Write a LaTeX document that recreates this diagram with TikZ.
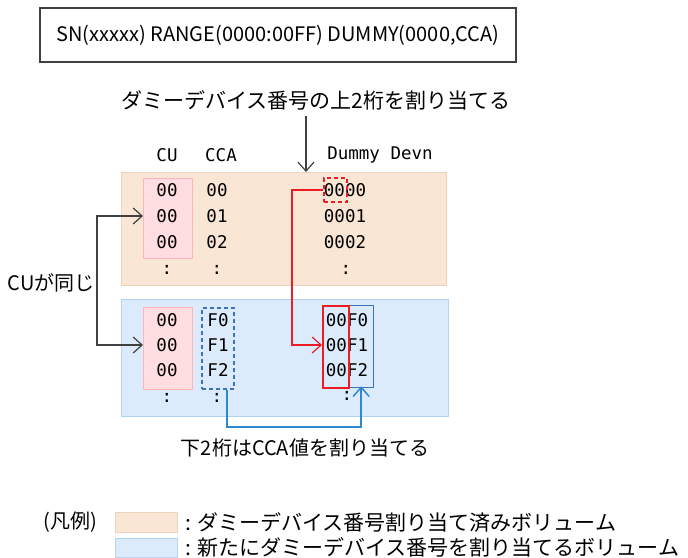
\documentclass[tikz,border=0pt]{standalone}
\usepackage{fontspec}
\setmainfont{Noto Sans CJK JP}
\newfontfamily\jpfont{Noto Sans CJK JP}
\newfontfamily\tblfont{DejaVu Sans Mono}
\usetikzlibrary{arrows.meta,positioning}

\definecolor{usedfill}{HTML}{F9E6D5}
\definecolor{usedline}{HTML}{EDD2BA}
\definecolor{newfill}{HTML}{DCEBFB}
\definecolor{newline}{HTML}{B4D2F2}
\definecolor{pinkfill}{HTML}{FFDDE0}
\definecolor{pinkline}{HTML}{FFB4BC}
\definecolor{hired}{HTML}{EE1C25}
\definecolor{hiblue}{HTML}{3A74BC}
\definecolor{ptrblue}{HTML}{2E88D4}
\definecolor{darkline}{HTML}{404040}

\begin{document}
\begin{tikzpicture}[x=1pt,y=-1pt,
    jp/.style={font=\jpfont\fontsize{20}{24}\selectfont, inner sep=0pt},
    jpbig/.style={font=\jpfont\fontsize{21}{25}\selectfont, inner sep=0pt},
    tbl/.style={font=\tblfont\fontsize{17.5}{22}\selectfont, inner sep=0pt},
    area/.style={draw, line width=1pt, anchor=north west, inner sep=0pt},
    pinkbox/.style={draw=pinkline, fill=pinkfill, line width=1pt, anchor=north west, inner sep=0pt},
    dashbox/.style={line width=1.8pt, dash pattern=on 4pt off 3pt, anchor=north west, inner sep=0pt},
    pointer/.style={draw=darkline, line width=1.2pt, -{Straight Barb[length=9pt,width=16pt]}},
    redptr/.style={draw=hired, line width=1.2pt, -{Straight Barb[length=9pt,width=16pt]}},
    blueptr/.style={draw=ptrblue, line width=1.5pt, -{Straight Barb[length=9pt,width=16pt]}}]
  \useasboundingbox (0,0) rectangle (688,557);

  % command line
  \node[draw=darkline, line width=1.5pt, minimum width=476pt, minimum height=54pt,
        font=\fontsize{20}{24}\selectfont] (cmd) at (278,35)
        {SN(xxxxx) RANGE(0000:00FF) DUMMY(0000,CCA)};

  \node[jpbig] (hdr) at (316,100) {ダミーデバイス番号の上2桁を割り当てる};

  % column headings
  \node[tbl] (hCU) at (167,155) {CU};
  \node[tbl] (hCCA) at (221,155) {CCA};
  \node[tbl] (hDev) at (380,155) {Dummy Devn};

  % volumes already numbered
  \node[area, draw=usedline, fill=usedfill, minimum width=325pt, minimum height=113pt] (usedBox) at (121,172) {};
  \node[pinkbox, minimum width=49pt, minimum height=80pt] (cuHiA) at (143,178) {};

  \node[tbl] (uCu1) at (167,190) {00};
  \node[tbl] (uCu2) at (167,216) {00};
  \node[tbl] (uCu3) at (167,242) {00};
  \node[tbl] (uCu4) at (167,270) {:};
  \node[tbl] (uCca1) at (217,190) {00};
  \node[tbl] (uCca2) at (217,216) {01};
  \node[tbl] (uCca3) at (217,242) {02};
  \node[tbl] (uCca4) at (217,270) {:};
  \node[tbl] (uDev1) at (345,190) {0000};
  \node[tbl] (uDev2) at (345,216) {0001};
  \node[tbl] (uDev3) at (345,242) {0002};
  \node[tbl] (uDev4) at (346,270) {:};

  \node[dashbox, draw=hired, minimum width=23pt, minimum height=24pt] (dumHi) at (323,177) {};

  % volumes to be numbered
  \node[area, draw=newline, fill=newfill, minimum width=327pt, minimum height=117pt] (newBox) at (121,299) {};
  \node[pinkbox, minimum width=49pt, minimum height=82pt] (cuHiB) at (143,307) {};
  \node[dashbox, draw=hiblue, minimum width=32pt, minimum height=81pt] (ccaHi) at (201,307) {};

  \node[tbl] (lCu1) at (167,320) {00};
  \node[tbl] (lCu2) at (167,345) {00};
  \node[tbl] (lCu3) at (167,370) {00};
  \node[tbl] (lCu4) at (167,398) {:};
  \node[tbl] (lCca1) at (218,320) {F0};
  \node[tbl] (lCca2) at (218,345) {F1};
  \node[tbl] (lCca3) at (218,370) {F2};
  \node[tbl] (lCca4) at (217,398) {:};
  \node[tbl] (lDev1) at (347,320) {00F0};
  \node[tbl] (lDev2) at (347,345) {00F1};
  \node[tbl] (lDev3) at (347,370) {00F2};
  \node[tbl] (lDev4) at (347,396) {:};

  \node[draw=hiblue, line width=1.3pt, minimum width=25pt, minimum height=82pt,
        anchor=north west, inner sep=0pt] (newHi) at (348,305) {};
  \node[draw=hired, line width=1.5pt, minimum width=26pt, minimum height=82pt,
        anchor=north west, inner sep=0pt] (redHi) at (322,305) {};

  % connectors
  \draw[pointer, shorten <=6pt] ([xshift=-10pt]hdr.south) -- ([xshift=-10pt]hdr.south |- usedBox.north);
  \draw[redptr] (dumHi.west) -- ++(-31,0) |- (redHi.west |- lDev2);
  \draw[blueptr] ([xshift=9pt]ccaHi.south) -- ++(0,37) -| ([yshift=2pt]newHi.south);
  \draw[pointer, {Straight Barb[length=9pt,width=16pt]}-{Straight Barb[length=9pt,width=16pt]}]
    (uCu2 -| cuHiA.west) -- ++(-46,0) |- (lCu2 -| cuHiB.west);

  \node[jp, anchor=east] (sameCU) at (95,283) {CUが同じ};
  \node[jp] (lowLbl) at (305,448) {下2桁はCCA値を割り当てる};

  % legend
  \node[jp] (legend) at (70,522) {(凡例)};
  \node[area, draw=usedline, fill=usedfill, minimum width=62pt, minimum height=20pt] (keyUsed) at (115,512) {};
  \node[area, draw=newline, fill=newfill, minimum width=62pt, minimum height=19pt] (keyNew) at (115,538) {};
  \node[jpbig, anchor=west] (keyUsedTxt) at (185,522) {: ダミーデバイス番号割り当て済みボリューム};
  \node[jpbig, anchor=west] (keyNewTxt) at (185,547) {: 新たにダミーデバイス番号を割り当てるボリューム};
\end{tikzpicture}
\end{document}
